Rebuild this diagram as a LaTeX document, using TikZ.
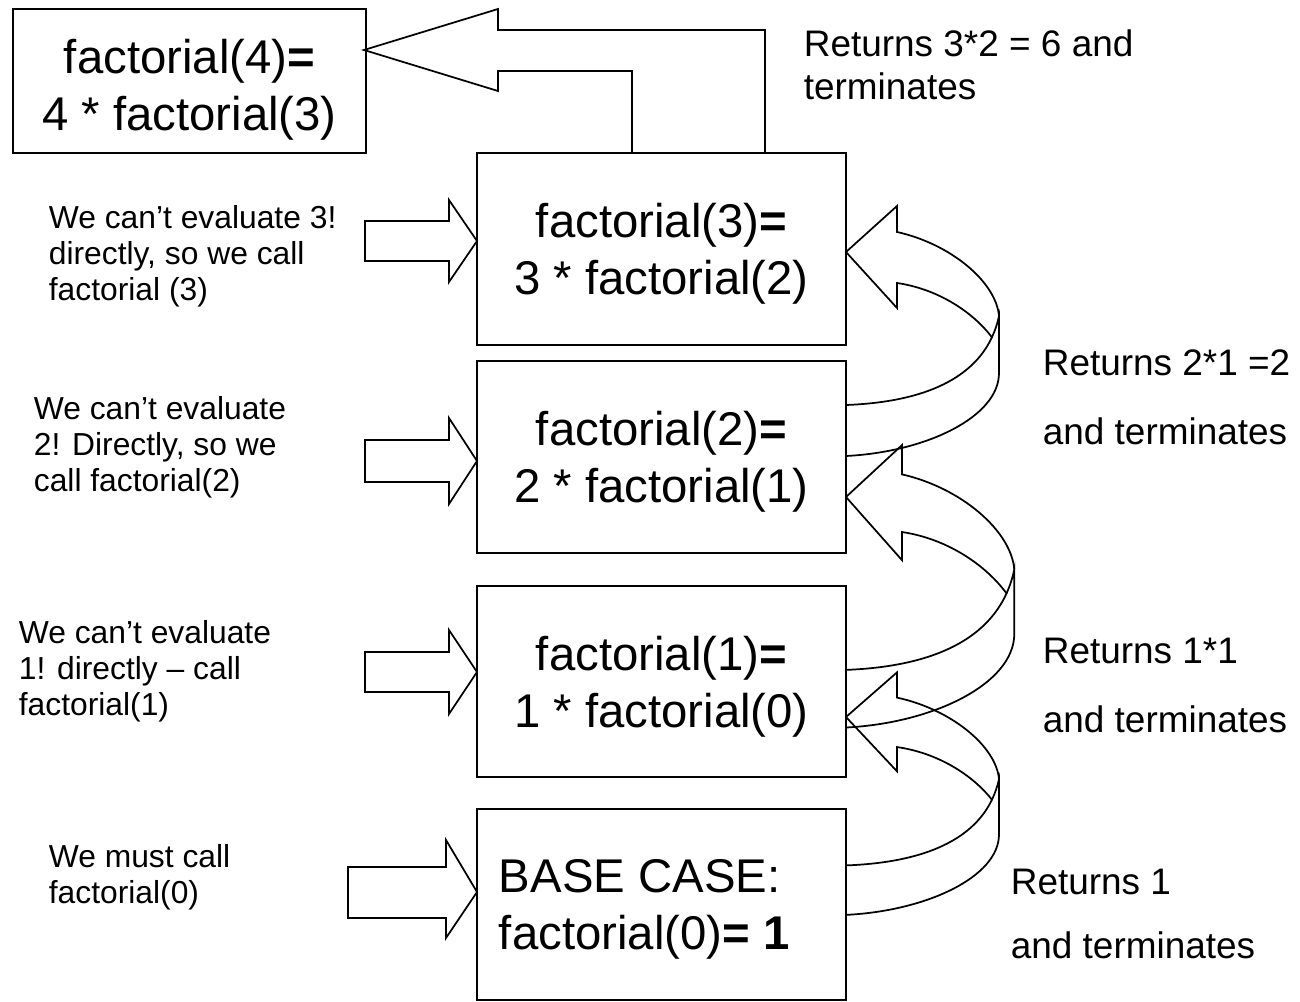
\documentclass[tikz,border=0pt]{standalone}
\usepackage{fontspec}
\setmainfont{Liberation Sans}

\tikzset{every picture/.style={line width=1.3pt}}
\tikzset{
  boxtext/.style={font=\fontsize{35.5}{42.75}\selectfont, align=center, inner sep=0pt},
  callnote/.style={font=\fontsize{23.85}{27}\selectfont, align=left, anchor=west, inner sep=0pt},
  retnote/.style={font=\fontsize{27.7}{51.75}\selectfont, align=left, anchor=west, inner sep=0pt},
  frame/.style={line width=1.7pt}
}

\begin{document}
\begin{tikzpicture}[x=0.75pt,y=0.75pt,yscale=-1,xscale=1]
	\useasboundingbox (0,0) rectangle (1300,1002);

	%Shape: Rectangle [factorial(4)]
	\draw [frame] (13,9) rectangle (366,153) ;
	%Shape: Rectangle [factorial(3)]
	\draw [frame] (477,153) rectangle (846,345) ;
	%Shape: Rectangle [factorial(2)]
	\draw [frame] (477,361) rectangle (846,553) ;
	%Shape: Rectangle [factorial(1)]
	\draw [frame] (477,586) rectangle (846,777) ;
	%Shape: Rectangle [base case]
	\draw [frame] (477,809) rectangle (846,1000) ;

	%Shape: Bent Arrow (back to the caller)
	\draw (632,153) -- (632,71) -- (498,71) -- (498,91) -- (364,50) -- (498,9) -- (498,30) -- (765,30) -- (765,153) ;

	%Shape: Right Arrow
	\draw (365,221) -- (449,221) -- (449,200) -- (477,241) -- (449,282) -- (449,261) -- (365,261) -- cycle ;
	%Shape: Right Arrow
	\draw (365,440) -- (449,440) -- (449,418) -- (477,461) -- (449,504) -- (449,482) -- (365,482) -- cycle ;
	%Shape: Right Arrow
	\draw (365,652) -- (449,652) -- (449,630) -- (477,672) -- (449,714) -- (449,692) -- (365,692) -- cycle ;
	%Shape: Right Arrow
	\draw (348,867) -- (446,867) -- (446,840) -- (477,892) -- (446,938) -- (446,918) -- (348,918) -- cycle ;

	%Shape: Curved Left Arrow [2 -> 3]
	\draw [shift={(846,252)}] (0,153) .. controls (80,150) and (140,125) .. (153,64) -- (153,121) .. controls (153,165) and (80,200) .. (0,204) ;
	\draw [shift={(846,252)}] (146.3,85.8) .. controls (127,60) and (92,37) .. (51,31) -- (51,56) -- (0,0) -- (51,-46) -- (51,-20) .. controls (105,-8) and (150,30) .. (153,64) ;
	%Shape: Curved Left Arrow [1 -> 2]
	\draw [shift={(846,497)}, xscale=1.1, yscale=1.13] (0,153) .. controls (80,150) and (140,125) .. (153,64) -- (153,121) .. controls (153,165) and (80,200) .. (0,204) ;
	\draw [shift={(846,497)}, xscale=1.1, yscale=1.13] (146.3,85.8) .. controls (127,60) and (92,37) .. (51,31) -- (51,56) -- (0,0) -- (51,-46) -- (51,-20) .. controls (105,-8) and (150,30) .. (153,64) ;
	%Shape: Curved Left Arrow [0 -> 1]
	\draw [shift={(846,717)}, yscale=0.97] (0,153) .. controls (80,150) and (140,125) .. (153,64) -- (153,121) .. controls (153,165) and (80,200) .. (0,204) ;
	\draw [shift={(846,717)}, yscale=0.97] (146.3,85.8) .. controls (127,60) and (92,37) .. (51,31) -- (51,56) -- (0,0) -- (51,-46) -- (51,-20) .. controls (105,-8) and (150,30) .. (153,64) ;

	% Text Node
	\node [boxtext] (fact4) at (189.5,90) {factorial(4)\textbf{=}\\4 * factorial(3)};
	% Text Node
	\node [boxtext] (fact3) at (661.5,254) {factorial(3)\textbf{=}\\3 * factorial(2)};
	% Text Node
	\node [boxtext] (fact2) at (661.5,462) {factorial(2)\textbf{=}\\2 * factorial(1)};
	% Text Node
	\node [boxtext] (fact1) at (661.5,687) {factorial(1)\textbf{=}\\1 * factorial(0)};
	% Text Node
	\node [boxtext, align=left, anchor=west] (fact0) at (498,909) {BASE CASE:\\factorial(0)\textbf{= 1}};

	% Text Node
	\node [callnote] (call3) at (48,256) {We can’t evaluate 3!\\directly, so we call\\factorial (3)};
	% Text Node
	\node [callnote] (call2) at (33,447) {We can’t evaluate\\2! Directly, so we\\call factorial(2)};
	% Text Node
	\node [callnote] (call1) at (18,671) {We can’t evaluate\\1! directly – call\\factorial(1)};
	% Text Node
	\node [callnote] (call0) at (48,877) {We must call\\factorial(0)};

	% Text Node
	\node [retnote, font=\fontsize{27.7}{32.25}\selectfont] (ret3) at (803,65) {Returns 3*2 = 6 and\\terminates};
	% Text Node
	\node [retnote] (ret2) at (1042,397) {Returns 2*1 =2\\and terminates};
	% Text Node
	\node [retnote] (ret1) at (1042,685) {Returns 1*1\\and terminates};
	% Text Node
	\node [retnote, font=\fontsize{27.7}{48}\selectfont] (ret0) at (1010,914) {Returns 1\\and terminates};

\end{tikzpicture}
\end{document}
